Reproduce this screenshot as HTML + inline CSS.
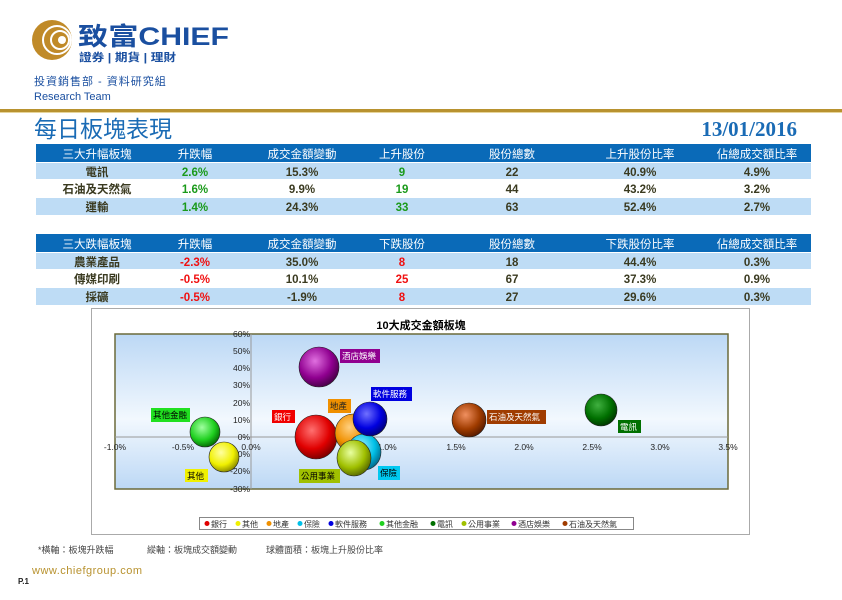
<!DOCTYPE html>
<html><head><meta charset="utf-8">
<style>
html,body{margin:0;padding:0;background:#fff;}
body{width:842px;height:595px;overflow:hidden;position:relative;font-family:"Liberation Sans","Noto Sans CJK TC",sans-serif;}
svg text{font-family:"Liberation Sans","Noto Sans CJK TC",sans-serif;}
</style></head><body>
<svg width="842" height="595" viewBox="0 0 842 595" xmlns="http://www.w3.org/2000/svg">
<defs>
<linearGradient id="pa" x1="0" y1="0" x2="0" y2="1">
<stop offset="0" stop-color="#bcd8f5"/><stop offset="0.55" stop-color="#f2f8fe"/><stop offset="1" stop-color="#bcd8f5"/></linearGradient>
<radialGradient id="gR" cx="0.4" cy="0.35" r="0.7"><stop offset="0" stop-color="#ff7070"/><stop offset="0.6" stop-color="#e00000"/><stop offset="1" stop-color="#700000"/></radialGradient>
<radialGradient id="gY" cx="0.4" cy="0.35" r="0.7"><stop offset="0" stop-color="#ffffa0"/><stop offset="0.6" stop-color="#f0f000"/><stop offset="1" stop-color="#808000"/></radialGradient>
<radialGradient id="gO" cx="0.4" cy="0.35" r="0.7"><stop offset="0" stop-color="#ffd080"/><stop offset="0.6" stop-color="#f09000"/><stop offset="1" stop-color="#804800"/></radialGradient>
<radialGradient id="gC" cx="0.4" cy="0.35" r="0.7"><stop offset="0" stop-color="#a0f0ff"/><stop offset="0.6" stop-color="#00c0e8"/><stop offset="1" stop-color="#006080"/></radialGradient>
<radialGradient id="gB" cx="0.4" cy="0.35" r="0.7"><stop offset="0" stop-color="#7070ff"/><stop offset="0.6" stop-color="#0000e0"/><stop offset="1" stop-color="#000070"/></radialGradient>
<radialGradient id="gG" cx="0.4" cy="0.35" r="0.7"><stop offset="0" stop-color="#a0ffa0"/><stop offset="0.6" stop-color="#20d020"/><stop offset="1" stop-color="#006000"/></radialGradient>
<radialGradient id="gDG" cx="0.4" cy="0.35" r="0.7"><stop offset="0" stop-color="#40b040"/><stop offset="0.6" stop-color="#007000"/><stop offset="1" stop-color="#003000"/></radialGradient>
<radialGradient id="gYG" cx="0.4" cy="0.35" r="0.7"><stop offset="0" stop-color="#e8ffa0"/><stop offset="0.6" stop-color="#a0c000"/><stop offset="1" stop-color="#506000"/></radialGradient>
<radialGradient id="gP" cx="0.4" cy="0.35" r="0.7"><stop offset="0" stop-color="#e070e0"/><stop offset="0.6" stop-color="#900090"/><stop offset="1" stop-color="#400040"/></radialGradient>
<radialGradient id="gBr" cx="0.4" cy="0.35" r="0.7"><stop offset="0" stop-color="#f09060"/><stop offset="0.6" stop-color="#a03c00"/><stop offset="1" stop-color="#501800"/></radialGradient>
</defs>

<!-- logo -->
<circle cx="52" cy="40" r="20" fill="#c08a28"/>
<circle cx="57" cy="40" r="14" fill="none" stroke="#fff" stroke-width="2"/>
<circle cx="60" cy="40" r="9" fill="none" stroke="#fff" stroke-width="2"/>
<circle cx="62" cy="40" r="4" fill="#fff"/>
<text x="78" y="45" font-size="25" font-weight="bold" fill="#1a4fa0" textLength="151" lengthAdjust="spacingAndGlyphs">致富CHIEF</text>
<text x="79" y="61" font-size="11" font-weight="bold" fill="#1a4fa0" textLength="97" lengthAdjust="spacingAndGlyphs">證券 | 期貨 | 理財</text>
<text x="34" y="85" font-size="11" fill="#1a4fa0" letter-spacing="1">投資銷售部 - 資料研究組</text>
<text x="34" y="100" font-size="11" fill="#1a4fa0">Research Team</text>
<rect x="0" y="109" width="842" height="3" fill="#b8922f"/>
<rect x="0" y="112" width="842" height="1" fill="#e6d49a"/>

<text x="34" y="137" font-size="23" fill="#1a6bb5">每日板塊表現</text>
<text x="797" y="136" font-size="21" font-weight="bold" fill="#1a6bb5" text-anchor="end" style="font-family:'Liberation Serif',serif">13/01/2016</text>

<!-- table 1 -->
<g font-size="11.5" text-anchor="middle">
<rect x="36" y="144" width="775" height="18" fill="#0a6ab8"/>
<rect x="36" y="163" width="775" height="16" fill="#bedcf5"/>
<rect x="36" y="198" width="775" height="17" fill="#bedcf5"/>
<g fill="#fff"><text x="97" y="158">三大升幅板塊</text><text x="195" y="158">升跌幅</text><text x="302" y="158">成交金額變動</text><text x="402" y="158">上升股份</text><text x="512" y="158">股份總數</text><text x="640" y="158">上升股份比率</text><text x="757" y="158">佔總成交額比率</text></g>
<g fill="#3a3a20" font-weight="bold"><text x="97" y="176">電訊</text><text x="97" y="193">石油及天然氣</text><text x="97" y="211">運輸</text></g>
<g fill="#1a9a1a" font-weight="bold"><text x="195" y="176">2.6%</text><text x="195" y="193">1.6%</text><text x="195" y="211">1.4%</text><text x="402" y="176">9</text><text x="402" y="193">19</text><text x="402" y="211">33</text></g>
<g fill="#3a3a20" font-weight="bold"><text x="302" y="176">15.3%</text><text x="302" y="193">9.9%</text><text x="302" y="211">24.3%</text><text x="512" y="176">22</text><text x="512" y="193">44</text><text x="512" y="211">63</text><text x="640" y="176">40.9%</text><text x="640" y="193">43.2%</text><text x="640" y="211">52.4%</text><text x="757" y="176">4.9%</text><text x="757" y="193">3.2%</text><text x="757" y="211">2.7%</text></g>

<rect x="36" y="234" width="775" height="18" fill="#0a6ab8"/>
<rect x="36" y="253" width="775" height="16" fill="#bedcf5"/>
<rect x="36" y="288" width="775" height="17" fill="#bedcf5"/>
<g fill="#fff"><text x="97" y="248">三大跌幅板塊</text><text x="195" y="248">升跌幅</text><text x="302" y="248">成交金額變動</text><text x="402" y="248">下跌股份</text><text x="512" y="248">股份總數</text><text x="640" y="248">下跌股份比率</text><text x="757" y="248">佔總成交額比率</text></g>
<g fill="#3a3a20" font-weight="bold"><text x="97" y="266">農業產品</text><text x="97" y="283">傳媒印刷</text><text x="97" y="301">採礦</text></g>
<g fill="#f01010" font-weight="bold"><text x="195" y="266">-2.3%</text><text x="195" y="283">-0.5%</text><text x="195" y="301">-0.5%</text><text x="402" y="266">8</text><text x="402" y="283">25</text><text x="402" y="301">8</text></g>
<g fill="#3a3a20" font-weight="bold"><text x="302" y="266">35.0%</text><text x="302" y="283">10.1%</text><text x="302" y="301">-1.9%</text><text x="512" y="266">18</text><text x="512" y="283">67</text><text x="512" y="301">27</text><text x="640" y="266">44.4%</text><text x="640" y="283">37.3%</text><text x="640" y="301">29.6%</text><text x="757" y="266">0.3%</text><text x="757" y="283">0.9%</text><text x="757" y="301">0.3%</text></g>
</g>

<!-- chart -->
<rect x="91.5" y="308.5" width="658" height="226" fill="#fff" stroke="#aaa"/>
<text x="421" y="329" font-size="11" font-weight="bold" text-anchor="middle" fill="#000">10大成交金額板塊</text>
<rect x="115" y="334" width="613" height="155" fill="url(#pa)" stroke="#6b6a3a" stroke-width="1.5"/>
<line x1="115" y1="437" x2="728" y2="437" stroke="#999" stroke-width="1"/>
<line x1="251" y1="334" x2="251" y2="489" stroke="#999" stroke-width="1"/>
<g font-size="8.5" fill="#222" text-anchor="end">
<text x="250" y="337">60%</text><text x="250" y="354">50%</text><text x="250" y="371">40%</text><text x="250" y="388">30%</text><text x="250" y="406">20%</text><text x="250" y="423">10%</text><text x="250" y="440">0%</text><text x="250" y="457">-10%</text><text x="250" y="474">-20%</text><text x="250" y="492">-30%</text>
</g>
<g font-size="8.5" fill="#222" text-anchor="middle">
<text x="115" y="450">-1.0%</text><text x="183" y="450">-0.5%</text><text x="251" y="450">0.0%</text><text x="319" y="450">0.5%</text><text x="387" y="450">1.0%</text><text x="456" y="450">1.5%</text><text x="524" y="450">2.0%</text><text x="592" y="450">2.5%</text><text x="660" y="450">3.0%</text><text x="728" y="450">3.5%</text>
</g>
<g stroke="#222" stroke-width="0.6">
<ellipse cx="319" cy="367" rx="20" ry="20" fill="url(#gP)"/>
<ellipse cx="316" cy="437" rx="21" ry="22" fill="url(#gR)"/>
<ellipse cx="353" cy="433" rx="18" ry="19" fill="url(#gO)"/>
<ellipse cx="364" cy="452" rx="17" ry="18" fill="url(#gC)"/>
<ellipse cx="370" cy="419" rx="17" ry="17" fill="url(#gB)"/>
<ellipse cx="354" cy="458" rx="17" ry="18" fill="url(#gYG)"/>
<ellipse cx="205" cy="432" rx="15" ry="15" fill="url(#gG)"/>
<ellipse cx="224" cy="457" rx="15" ry="15" fill="url(#gY)"/>
<ellipse cx="469" cy="420" rx="17" ry="17" fill="url(#gBr)"/>
<ellipse cx="601" cy="410" rx="16" ry="16" fill="url(#gDG)"/>
</g>
<g font-size="8.5">
<rect x="340" y="349" width="40" height="14" fill="#900090"/><text x="342" y="359" fill="#fff">酒店娛樂</text>
<rect x="371" y="387" width="41" height="14" fill="#0000e0"/><text x="373" y="397" fill="#fff">軟件服務</text>
<rect x="328" y="399" width="23" height="14" fill="#f09000"/><text x="330" y="409" fill="#222">地產</text>
<rect x="272" y="410" width="23" height="13" fill="#f00000"/><text x="274" y="420" fill="#fff">銀行</text>
<rect x="151" y="408" width="39" height="14" fill="#20e020"/><text x="153" y="418" fill="#000">其他金融</text>
<rect x="185" y="469" width="23" height="13" fill="#f0f000"/><text x="187" y="479" fill="#000">其他</text>
<rect x="299" y="469" width="41" height="14" fill="#a0c000"/><text x="301" y="479" fill="#000">公用事業</text>
<rect x="378" y="466" width="22" height="14" fill="#00c8f0"/><text x="380" y="476" fill="#000">保險</text>
<rect x="487" y="410" width="59" height="14" fill="#a03c00"/><text x="489" y="420" fill="#fff">石油及天然氣</text>
<rect x="618" y="420" width="23" height="13" fill="#007000"/><text x="620" y="430" fill="#fff">電訊</text>
</g>
<rect x="199.5" y="517.5" width="434" height="12" fill="#fff" stroke="#888"/>
<g font-size="8" fill="#333">
<circle cx="207" cy="523.5" r="2.5" fill="#e00000"/><text x="211" y="527">銀行</text>
<circle cx="238" cy="523.5" r="2.5" fill="#f0f000"/><text x="242" y="527">其他</text>
<circle cx="269" cy="523.5" r="2.5" fill="#f09000"/><text x="273" y="527">地產</text>
<circle cx="300" cy="523.5" r="2.5" fill="#00c0e8"/><text x="304" y="527">保險</text>
<circle cx="331" cy="523.5" r="2.5" fill="#0000e0"/><text x="335" y="527">軟件服務</text>
<circle cx="382" cy="523.5" r="2.5" fill="#20d020"/><text x="386" y="527">其他金融</text>
<circle cx="433" cy="523.5" r="2.5" fill="#007000"/><text x="437" y="527">電訊</text>
<circle cx="464" cy="523.5" r="2.5" fill="#a0c000"/><text x="468" y="527">公用事業</text>
<circle cx="514" cy="523.5" r="2.5" fill="#900090"/><text x="518" y="527">酒店娛樂</text>
<circle cx="565" cy="523.5" r="2.5" fill="#a03c00"/><text x="569" y="527">石油及天然氣</text>
</g>

<text x="38" y="553" font-size="9" fill="#444">*橫軸：板塊升跌幅</text>
<text x="147" y="553" font-size="9" fill="#444">縱軸：板塊成交額變動</text>
<text x="266" y="553" font-size="9" fill="#444">球體面積：板塊上升股份比率</text>
<text x="32" y="574" font-size="11" fill="#b8922f" letter-spacing="0.5">www.chiefgroup.com</text>
<text x="18" y="584" font-size="8" font-weight="bold" fill="#222">P.1</text>
</svg>
</body></html>
